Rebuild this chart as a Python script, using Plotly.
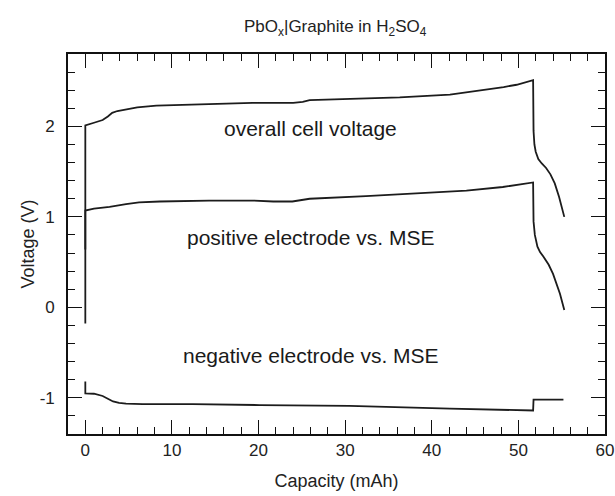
import plotly.graph_objects as go

# Charge/discharge curves of a PbOx | graphite cell in sulfuric acid
cell_cap = [0, 0, 1.0, 2.0, 2.6, 3.1, 3.7, 4.3, 6.0, 8.2, 12.4, 19.3, 24.0, 25.1, 25.9, 30.5,
            36.3, 42.1, 44.5, 46.7, 48.3, 49.8, 51.7, 51.75, 51.85, 52.0, 52.3, 52.7, 53.2,
            53.7, 54.2, 54.7, 55.3]
cell_v = [0.64, 2.01, 2.04, 2.07, 2.11, 2.15, 2.17, 2.18, 2.21, 2.23, 2.24, 2.26, 2.26, 2.27,
          2.29, 2.30, 2.32, 2.35, 2.38, 2.41, 2.435, 2.46, 2.51, 1.95, 1.80, 1.72, 1.64, 1.59,
          1.54, 1.47, 1.37, 1.22, 1.00]

pos_cap = [0, 0, 1.0, 2.8, 4.7, 6.2, 8.6, 14.3, 19.3, 21.7, 23.9, 25.1, 25.9, 32.4,
           38.2, 44.0, 48.2, 51.7, 51.75, 51.9, 52.2, 52.5, 52.9, 53.5, 54.0, 54.4, 54.8, 55.3]
pos_v = [-0.18, 1.07, 1.09, 1.11, 1.14, 1.16, 1.17, 1.18, 1.18, 1.17, 1.17, 1.19, 1.20, 1.23,
         1.26, 1.29, 1.33, 1.38, 0.95, 0.80, 0.67, 0.61, 0.56, 0.47, 0.37, 0.27, 0.15, -0.03]

neg_cap = [0, 0, 1.0, 2.0, 2.6, 3.2, 3.9, 4.7, 6.6, 12.4, 20.1, 30.5, 42.1, 51.7, 51.75, 55.2]
neg_v = [-0.82, -0.95, -0.955, -0.98, -1.01, -1.04, -1.055, -1.065, -1.07, -1.07, -1.08,
         -1.09, -1.12, -1.14, -1.02, -1.02]

labels = ["overall cell voltage", "positive electrode vs. MSE", "negative electrode vs. MSE"]
label_x = [26, 26, 26]
label_y = [1.98, 0.77, -0.53]

y_ticks = [-1, 0, 1, 2]
y_tick_text = ["-1", "0", "1", "2"]

FONT = "Arial, Liberation Sans, sans-serif"
LINE = "#1c1c1c"

fig = go.Figure()
for xs, ys in [(cell_cap, cell_v), (pos_cap, pos_v), (neg_cap, neg_v)]:
    fig.add_trace(go.Scatter(x=xs, y=ys, mode="lines",
                             line=dict(color=LINE, width=1.8),
                             showlegend=False, hoverinfo="skip"))

for text, x, y in zip(labels, label_x, label_y):
    fig.add_annotation(x=x, y=y, text=text, showarrow=False,
                       font=dict(family=FONT, size=21, color="#1a1a1a"))

axis_common = dict(
    showline=True, linecolor="#111", linewidth=1.6, mirror="ticks",
    ticks="inside", ticklen=14, tickwidth=1.4, tickcolor="#111",
    showgrid=False, zeroline=False, automargin=False,
    tickfont=dict(family=FONT, size=17, color="#222"),
)

fig.update_xaxes(range=[-2, 60], dtick=10, tick0=0, ticklabelstandoff=0,
                 minor=dict(dtick=2, ticks="inside", ticklen=7, tickwidth=1.2, tickcolor="#111"),
                 title=dict(text="Capacity (mAh)", font=dict(family=FONT, size=18, color="#222"),
                            standoff=15),
                 **axis_common)
fig.update_yaxes(range=[-1.4, 2.8], tickmode="array", tickvals=y_ticks, ticktext=y_tick_text,
                 ticklabelstandoff=8,
                 minor=dict(dtick=0.2, tick0=0, ticks="inside", ticklen=7, tickwidth=1.2,
                            tickcolor="#111"),
                 title=dict(text="Voltage (V)", font=dict(family=FONT, size=18, color="#222"),
                            standoff=0),
                 **axis_common)

fig.update_layout(
    width=615, height=496,
    margin=dict(l=68, r=10, t=54, b=62),
    paper_bgcolor="white", plot_bgcolor="white",
    title=dict(text="PbO<sub>x</sub>|Graphite in H<sub>2</sub>SO<sub>4</sub>",
               x=0.545, xanchor="center", y=0.947, yanchor="middle",
               font=dict(family=FONT, size=17, color="#222")),
)

fig.write_html("out.html")
